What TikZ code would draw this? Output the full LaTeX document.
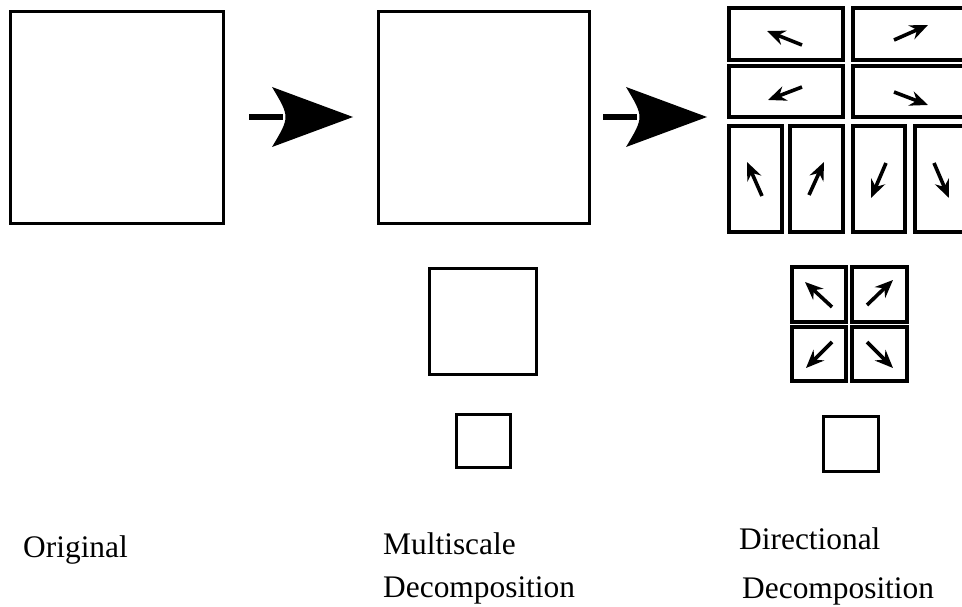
\documentclass[tikz,border=0pt]{standalone}
\usepackage{fontspec}
\setmainfont{Liberation Serif}
\usetikzlibrary{arrows.meta,calc}
\begin{document}
\begin{tikzpicture}[x=1pt,y=-1pt,
  frame/.style={draw=black,line width=3pt,fill=white,rectangle,inner sep=0pt,outer sep=0pt,anchor=north west},
  band/.style={frame,line width=3.6pt},
  dirarrow/.style={line width=3.6pt,-{Stealth[length=18pt,width=15pt,inset=6pt]}},
  caption/.style={anchor=base west,inner sep=0pt,font=\fontsize{31.4}{36}\selectfont}]
\useasboundingbox (0,0) rectangle (962,607);
\clip (0,0) rectangle (962,607);

% original image
\node[frame,minimum width=213pt,minimum height=212pt] (orig) at (10,12) {};

% multiscale decomposition: three levels
\node[frame,minimum width=211pt,minimum height=212pt] (ms1) at (378,12) {};
\node[frame,minimum width=107pt,minimum height=106pt] (ms2) at (429,268) {};
\node[frame,minimum width=54pt,minimum height=53pt] (ms3) at (456,414) {};

% directional decomposition, finest level
\node[band,minimum width=114pt,minimum height=52pt] (d1) at (729,8) {};
\node[band,minimum width=114pt,minimum height=52pt] (d2) at (853,8) {};
\node[band,minimum width=114pt,minimum height=51pt] (d3) at (729,66) {};
\node[band,minimum width=114pt,minimum height=51pt] (d4) at (853,66) {};
\node[band,minimum width=53pt,minimum height=106pt] (d5) at (729,126) {};
\node[band,minimum width=53pt,minimum height=106pt] (d6) at (790,126) {};
\node[band,minimum width=52pt,minimum height=106pt] (d7) at (853,126) {};
\node[band,minimum width=52pt,minimum height=106pt] (d8) at (915,126) {};

% directional decomposition, middle level
\node[band,minimum width=54pt,minimum height=55pt] (e1) at (792,267) {};
\node[band,minimum width=55pt,minimum height=55pt] (e2) at (852,267) {};
\node[band,minimum width=54pt,minimum height=54pt] (e3) at (792,327) {};
\node[band,minimum width=55pt,minimum height=54pt] (e4) at (852,327) {};

% coarsest level
\node[frame,minimum width=55pt,minimum height=55pt] (c1) at (823,416) {};

% orientation arrows in the subbands
\draw[dirarrow] (802,45) -- (767,31);
\draw[dirarrow] (894,40) -- (928,25);
\draw[dirarrow] (802,87) -- (768,100);
\draw[dirarrow] (894,92) -- (928,105);
\draw[dirarrow] (762,196) -- (747,162);
\draw[dirarrow] (809,195) -- (824,162);
\draw[dirarrow] (886,163) -- (871,198);
\draw[dirarrow] (934,163) -- (949,198);
\draw[dirarrow] (832,307) -- (805,282);
\draw[dirarrow] (867,305) -- (893,280);
\draw[dirarrow] (832,342) -- (806,368);
\draw[dirarrow] (867,342) -- (893,368);

% big process arrows between stages
\coordinate (a1s) at ($(orig.east)+(26,-1)$);
\coordinate (a1e) at ($(ms1.west)+(-25,-1)$);
\coordinate (a2s) at ($(ms1.east)+(14,-1)$);
\coordinate (a2e) at ($(ms1.east)+(118,-1)$);
\foreach \s/\e in {a1s/a1e,a2s/a2e}{
  \draw[line width=6pt] (\s) -- ($(\e)+(-70,0)$);
  \fill ($(\e)+(-81,-30)$) -- (\e) -- ($(\e)+(-81,30)$)
        .. controls ($(\e)+(-63,0)$) .. cycle;
}

% captions
\node[caption] (t1) at (23,557) {Original};
\node[caption] (t2) at (383,554) {Multiscale};
\node[caption] (t3) at (383,597) {Decomposition};
\node[caption] (t4) at (739,549) {Directional};
\node[caption] (t5) at (742,598) {Decomposition};
\end{tikzpicture}
\end{document}
